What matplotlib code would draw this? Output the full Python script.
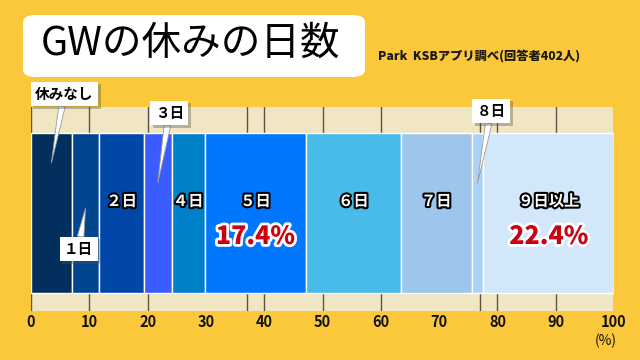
import matplotlib.pyplot as plt
import matplotlib.patheffects as pe
from matplotlib.patches import FancyBboxPatch
import numpy as np

plt.rcParams['font.family'] = ['Noto Sans CJK JP', 'DejaVu Sans']

# data (% of 402 respondents)
categories = ["休みなし", "１日", "２日", "３日", "４日", "５日", "６日", "７日", "８日", "９日以上"]
shares = [7.0, 4.7, 7.7, 4.7, 5.7, 17.4, 16.2, 12.2, 2.0, 22.4]
colors = ["#032f5e", "#00468f", "#0047a8", "#3b5cff", "#0080c8",
          "#0077fe", "#48bbe9", "#9ec6ec", "#a9d3f6", "#d3e7fb"]
xticks = [0, 10, 20, 30, 40, 50, 60, 70, 80, 90, 100]
strip_ticks = [0, 10, 20, 37, 40, 50, 60, 77, 80, 90, 100]
inside = ["２日", "４日", "５日", "６日", "７日", "９日以上"]
highlight = ["５日", "９日以上"]
# callouts: category, box offset (dx, dy)
callouts = [("休みなし", 2.2, 69), ("１日", -1.2, -41), ("３日", 2.0, 70), ("８日", 2.3, 72)]

bg = "#fbc83c"
strip = "#f0e6c3"

fig = plt.figure(figsize=(6.4, 3.6), dpi=100, facecolor=bg)

# title box
fig.add_artist(FancyBboxPatch((23 / 640, 283 / 360), 342 / 640, 62 / 360,
                              boxstyle="round,pad=0,rounding_size=0.02",
                              transform=fig.transFigure, fc="white", ec="none"))
fig.text(0.298, 0.878, "GWの休みの日数", fontsize=28.5, ha="center", va="center", color="black")
fig.text(0.591, 0.847, "Park  KSBアプリ調べ(回答者402人)", fontsize=8.8, fontweight="black",
         ha="left", va="center", color="#1a1a1a")

ax = fig.add_axes([31 / 640, 49 / 360, 583 / 640, 204 / 360])
ax.set_facecolor(bg)
ax.set_xlim(0, 100)
ax.set_ylim(49, 253)

bar_y, bar_h = 147, 160
lefts = np.concatenate([[0], np.cumsum(shares)[:-1]])
centers = lefts + np.array(shares) / 2

# beige strips with marks
ax.axhspan(227, 253, xmin=0, xmax=1, color=strip, zorder=1)
ax.axhspan(49, 67, xmin=0, xmax=1, color=strip, zorder=1)
for t in strip_ticks:
    ax.plot([t, t], [227, 253], color="#5e5340", lw=1, zorder=2)
    ax.plot([t, t], [49, 67], color="#5e5340", lw=1, zorder=2)

ax.barh(bar_y, shares, left=lefts, height=bar_h, color=colors,
        edgecolor="white", linewidth=1, zorder=3)

white_stroke = [pe.withStroke(linewidth=3, foreground="black")]

for cat, c in zip(categories, centers):
    if cat in inside:
        ax.text(c, 159, cat, ha="center", va="center", fontsize=11, fontweight="bold",
                color="white", path_effects=white_stroke, zorder=5)
    if cat in highlight:
        v = shares[categories.index(cat)]
        ax.text(c, 124, f"{v:.1f}%", ha="center", va="center", fontsize=18,
                fontweight="black", color="#cc0010",
                path_effects=[pe.withSimplePatchShadow(offset=(1.5, -1.5), shadow_rgbFace="#555555", alpha=0.6),
                              pe.withStroke(linewidth=4, foreground="white")], zorder=5)

for cat, dx, dy in callouts:
    c = centers[categories.index(cat)]
    tip_y = 197 if cat == "休みなし" else (152 if cat == "１日" else 177)
    t = ax.annotate(cat, xy=(c, tip_y), xytext=(c + dx, tip_y + dy),
                    ha="center", va="center", fontsize=10.5, fontweight="bold",
                    annotation_clip=False, zorder=6,
                    bbox=dict(boxstyle="square,pad=0.3", fc="white", ec="none"),
                    arrowprops=dict(arrowstyle="wedge,tail_width=0.45,shrink_factor=0.5",
                                    fc="white", ec="#999999", lw=0.6,
                                    shrinkA=0, shrinkB=0))
    t.get_bbox_patch().set_path_effects([pe.SimplePatchShadow(offset=(2, -2), alpha=0.35),
                                         pe.Normal()])

ax.set_xticks(xticks)
ax.set_xticklabels([str(x) for x in xticks],
                   fontdict=dict(family='Noto Sans CJK JP',
                                 fontsize=10.5, fontweight="bold", color="#111111"))
ax.tick_params(axis="x", length=0, pad=2)
ax.set_yticks([])
for s in ax.spines.values():
    s.set_visible(False)

fig.text(606 / 640, 19 / 360, "(%)", ha="center", va="center", fontsize=10,
         family='Noto Sans CJK JP', color="#111111")

fig.savefig("out.png", dpi=100, facecolor=bg)
